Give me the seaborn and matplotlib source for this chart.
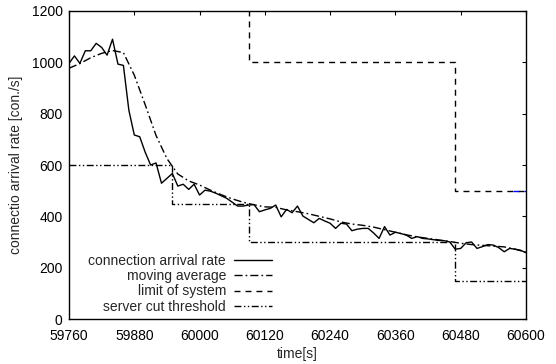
import numpy as np
import pandas as pd
import seaborn as sns
import matplotlib
matplotlib.use("Agg")
import matplotlib.pyplot as plt

# ---- data ----
rate_time = list(range(59760, 60601, 10))
rate_value = [
    996, 1025, 996, 1045, 1045, 1074, 1058, 1028, 1090, 993,
    988, 814, 717, 710, 650, 600, 608, 529, 548, 567,
    518, 525, 505, 525, 483, 502, 498, 490, 480, 470,
    455, 440, 440, 444, 446, 418, 425, 431, 444, 398,
    427, 414, 440, 401, 388, 375, 392, 382, 373, 353,
    373, 370, 344, 350, 353, 353, 335, 314, 360, 327,
    338, 333, 327, 314, 321, 314, 312, 309, 306, 305,
    300, 272, 275, 297, 300, 275, 282, 290, 288, 278,
    262, 275, 272, 268, 258,
]

avg_time = list(range(59760, 60601, 20))
avg_value = [
    977, 995, 1018, 1035, 1046, 1038, 950, 835, 715, 625,
    565, 538, 522, 502, 484, 468, 455, 445, 437, 435,
    425, 418, 410, 400, 390, 378, 370, 365, 358, 348,
    338, 328, 320, 314, 308, 302, 295, 290, 287, 284,
    281, 272, 260,
]

limit_time = [59760, 60090, 60470, 60600]
limit_value = [1500, 1000, 500, 500]

cut_time = [59760, 59950, 60090, 60470, 60600]
cut_value = [600, 450, 300, 150, 150]

# small blue stub at the end of the limit line in the original
stub_time = [60576, 60600]
stub_value = [500, 500]

x_ticks = [59760, 59880, 60000, 60120, 60240, 60360, 60480, 60600]
y_ticks = [0, 200, 400, 600, 800, 1000, 1200]

# ---- style ----
sns.set_theme(style="white")
plt.rcParams["font.family"] = ["Liberation Sans", "DejaVu Sans"]
plt.rcParams["axes.edgecolor"] = "black"
plt.rcParams["axes.linewidth"] = 1.0

fig = plt.figure(figsize=(5.56, 3.64), dpi=100)
ax = fig.add_axes([0.1241, 0.1236, 0.8219, 0.8462])

lw = 1.0
sns.lineplot(x=rate_time, y=rate_value, ax=ax, color="black", lw=lw,
             label="connection arrival rate")
sns.lineplot(x=avg_time, y=avg_value, ax=ax, color="black", lw=lw,
             linestyle=(0, (5.8, 2.2, 1.2, 2.2)), label="moving average")
sns.lineplot(x=limit_time, y=limit_value, ax=ax, color="black", lw=lw,
             drawstyle="steps-post", linestyle=(0, (4.3, 3.6)),
             label="limit of system")
sns.lineplot(x=cut_time, y=cut_value, ax=ax, color="black", lw=lw,
             drawstyle="steps-post",
             linestyle=(0, (5.0, 1.8, 1.0, 1.8, 1.0, 1.8)),
             label="server cut threshold")
sns.lineplot(x=stub_time, y=stub_value, ax=ax, color="blue", lw=lw,
             linestyle=(0, (4.3, 3.6)), legend=False)

ax.set_xlim(59760, 60600)
ax.set_ylim(0, 1200)
ax.set_xticks(x_ticks)
ax.set_yticks(y_ticks)
ax.tick_params(direction="in", length=3, width=0.8, top=True, right=True,
               labelsize=10, colors="black")
ax.tick_params(axis="x", pad=7)
ax.tick_params(axis="y", pad=4.5)
for s in ax.spines.values():
    s.set_visible(True)
    s.set_color("black")

ax.set_xlabel("time[s]", fontsize=10, labelpad=3)
ax.set_ylabel("connectio arrival rate [con./s]", fontsize=10, labelpad=6)

ax.legend(loc="upper right", bbox_to_anchor=(0.444, 0.212), frameon=False,
          markerfirst=False, fontsize=10, handlelength=2.7,
          handletextpad=0.6, labelspacing=0.1, borderpad=0,
          borderaxespad=0)

fig.savefig("out.png", dpi=100)
